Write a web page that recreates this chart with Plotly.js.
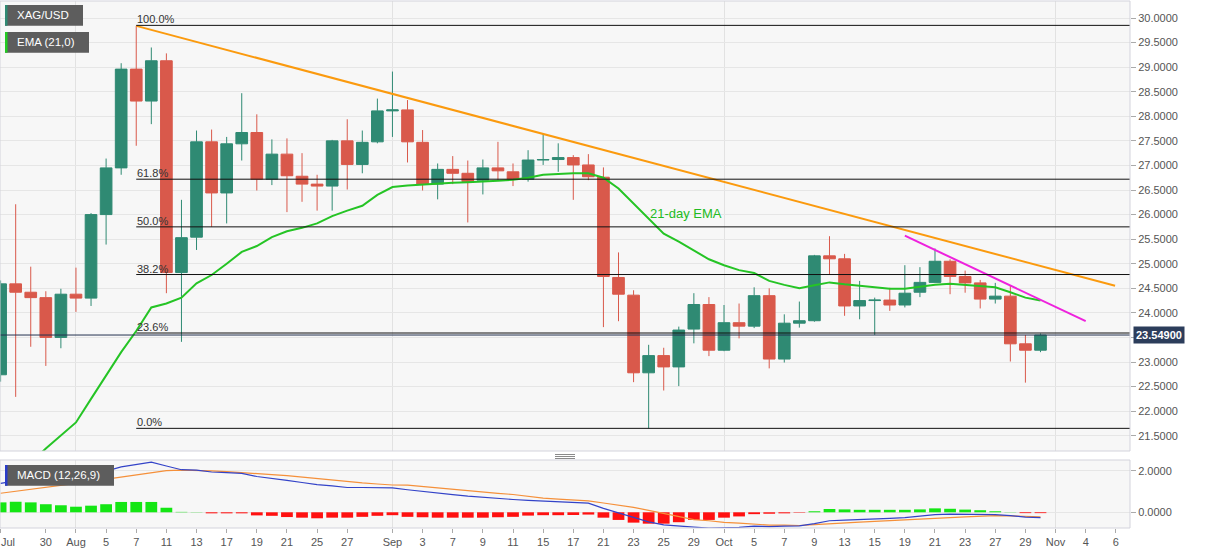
<!DOCTYPE html>
<html><head><meta charset="utf-8">
<script src="https://cdn.plot.ly/plotly-3.0.1.min.js"></script>
<style>html,body{margin:0;padding:0;background:#fff;}#chart{width:1207px;height:555px;}</style>
</head><body><div id="chart"></div>
<script>
// ---------- data ----------
const dates = ['2020-07-27','2020-07-28','2020-07-29','2020-07-30','2020-07-31',
'2020-08-03','2020-08-04','2020-08-05','2020-08-06','2020-08-07','2020-08-10','2020-08-11','2020-08-12','2020-08-13','2020-08-14',
'2020-08-17','2020-08-18','2020-08-19','2020-08-20','2020-08-21','2020-08-24','2020-08-25','2020-08-26','2020-08-27','2020-08-28','2020-08-31',
'2020-09-01','2020-09-02','2020-09-03','2020-09-04','2020-09-07','2020-09-08','2020-09-09','2020-09-10','2020-09-11',
'2020-09-14','2020-09-15','2020-09-16','2020-09-17','2020-09-18','2020-09-21','2020-09-22','2020-09-23','2020-09-24','2020-09-25',
'2020-09-28','2020-09-29','2020-09-30','2020-10-01','2020-10-02','2020-10-05','2020-10-06','2020-10-07','2020-10-08','2020-10-09',
'2020-10-12','2020-10-13','2020-10-14','2020-10-15','2020-10-16','2020-10-19','2020-10-20','2020-10-21','2020-10-22','2020-10-23',
'2020-10-26','2020-10-27','2020-10-28','2020-10-29','2020-10-30'];

const openP = [22.74,24.59,24.42,24.31,23.50,24.38,24.30,26.00,26.95,28.96,
28.31,29.13,24.82,25.54,27.48,26.44,27.44,27.67,26.72,27.23,
26.78,26.62,26.58,27.50,27.02,27.48,28.11,28.13,27.47,26.62,
26.92,26.84,26.70,26.95,26.87,26.72,27.11,27.12,27.16,27.01,
26.76,24.72,24.36,22.78,23.13,22.90,23.67,24.17,23.24,23.80,
23.73,24.35,23.06,23.79,23.84,25.16,25.10,24.14,24.25,24.26,
24.16,24.42,24.62,25.05,24.74,24.61,24.28,24.34,23.37,23.24];
const highP = [24.66,26.21,24.94,24.44,24.49,24.92,26.03,27.14,29.08,29.84,
29.40,29.28,26.30,27.71,27.73,27.58,28.47,28.04,27.53,27.55,
27.25,26.81,27.52,27.94,27.71,28.36,28.91,28.33,27.72,27.04,
27.19,27.10,27.12,27.48,27.04,27.31,27.64,27.45,27.21,27.23,
26.96,25.23,24.46,23.35,23.29,23.72,24.40,24.32,24.16,24.19,
24.52,24.50,23.97,24.23,25.18,25.56,25.20,24.65,24.31,24.51,
24.97,24.93,25.31,25.09,24.86,24.67,24.61,24.55,23.55,23.58];
const lowP = [22.60,22.29,23.31,22.92,23.28,24.02,24.14,25.39,26.81,27.40,
27.84,24.40,23.41,25.28,25.75,25.82,27.10,26.49,26.60,26.05,
26.26,26.08,26.08,26.51,26.84,27.45,27.58,27.06,26.49,26.31,
26.62,25.84,26.41,26.70,26.58,26.67,27.01,26.87,26.30,26.70,
23.71,23.83,22.59,21.65,22.42,22.51,23.38,23.12,23.22,23.48,
23.69,22.87,22.99,23.70,23.82,24.79,23.94,23.87,23.55,24.04,
24.11,24.32,24.62,24.38,24.41,24.09,24.19,23.01,22.58,23.20];
const closeP = [24.59,24.42,24.31,23.50,24.38,24.30,26.00,26.95,28.96,28.31,
29.13,24.82,25.53,27.48,26.44,27.44,27.67,26.72,27.23,26.79,
26.62,26.58,27.50,27.02,27.47,28.11,28.13,27.48,26.62,26.92,
26.84,26.67,26.95,26.89,26.72,27.11,27.12,27.16,27.01,26.77,
24.74,24.38,22.78,23.13,22.90,23.65,24.17,23.24,23.80,23.73,
24.35,23.06,23.79,23.84,25.16,25.10,24.14,24.25,24.26,24.16,
24.40,24.62,25.05,24.74,24.61,24.28,24.34,23.37,23.24,23.549];

const ema21 = [20.50,20.72,20.95,21.24,21.51,21.77,22.25,22.72,23.20,23.63,
24.11,24.19,24.31,24.60,24.77,25.00,25.24,25.36,25.54,25.66,
25.73,25.82,25.97,26.08,26.18,26.40,26.56,26.59,26.61,26.64,
26.65,26.66,26.67,26.69,26.71,26.75,26.81,26.83,26.84,26.84,
26.75,26.53,26.23,25.92,25.61,25.45,25.27,25.09,24.97,24.87,
24.81,24.65,24.57,24.50,24.56,24.62,24.58,24.55,24.52,24.49,
24.49,24.53,24.57,24.59,24.57,24.55,24.52,24.42,24.31,24.25];

const macdLine = [1.40,1.52,1.58,1.59,1.64,1.67,1.82,1.99,2.20,2.32,
2.43,2.24,2.06,2.04,1.95,1.92,1.88,1.73,1.65,1.54,
1.44,1.34,1.28,1.20,1.20,1.20,1.18,1.09,1.00,0.91,
0.85,0.78,0.72,0.68,0.62,0.58,0.55,0.50,0.47,0.44,
0.19,-0.03,-0.26,-0.46,-0.61,-0.68,-0.72,-0.77,-0.75,-0.73,
-0.67,-0.69,-0.67,-0.66,-0.55,-0.41,-0.38,-0.36,-0.32,-0.29,
-0.26,-0.20,-0.11,-0.09,-0.09,-0.09,-0.11,-0.16,-0.23,-0.26];
const signalLine = [0.92,1.01,1.10,1.20,1.30,1.40,1.50,1.60,1.70,1.82,
1.93,2.02,2.04,2.03,2.00,1.97,1.93,1.88,1.82,1.77,
1.70,1.63,1.54,1.46,1.42,1.37,1.32,1.31,1.24,1.17,
1.11,1.04,0.98,0.92,0.86,0.76,0.69,0.64,0.60,0.55,
0.45,0.34,0.24,0.09,-0.05,-0.20,-0.35,-0.41,-0.49,-0.52,
-0.58,-0.62,-0.62,-0.64,-0.60,-0.57,-0.52,-0.48,-0.44,-0.41,
-0.38,-0.34,-0.30,-0.26,-0.22,-0.19,-0.16,-0.17,-0.19,-0.22];
const macdHist = [0.48,0.51,0.48,0.39,0.34,0.27,0.32,0.39,0.50,0.50,
0.50,0.22,0.02,0.01,-0.05,-0.05,-0.05,-0.15,-0.17,-0.23,
-0.26,-0.29,-0.26,-0.26,-0.22,-0.17,-0.14,-0.22,-0.24,-0.26,
-0.26,-0.26,-0.26,-0.24,-0.22,-0.16,-0.14,-0.14,-0.13,-0.11,
-0.26,-0.37,-0.50,-0.55,-0.55,-0.48,-0.37,-0.37,-0.26,-0.20,
-0.09,-0.07,-0.05,-0.02,0.05,0.16,0.14,0.12,0.12,0.12,
0.12,0.14,0.19,0.17,0.13,0.10,0.05,0.01,-0.04,-0.04];

const fibLabels = ['100.0%','61.8%','50.0%','38.2%','23.6%','0.0%'];
const fibLevels = [29.85, 26.72, 25.75, 24.78, 23.59, 21.65];
const fibStart = '2020-08-07';
const lastPrice = 23.549;

const resistX = ['2020-08-07 12:00','2020-11-06 10:48'];
const resistY = [29.84, 24.55];
const shortX = ['2020-10-19 12:00','2020-11-04 12:00'];
const shortY = [25.57, 23.83];

const priceTicks = [21.5,22,22.5,23,23.5,24,24.5,25,25.5,26,26.5,27,27.5,28,28.5,29,29.5,30];

const tickDates = ['2020-07-27','2020-07-30','2020-08-03','2020-08-05','2020-08-07','2020-08-11','2020-08-13','2020-08-17','2020-08-19','2020-08-21','2020-08-25','2020-08-27',
'2020-09-01','2020-09-03','2020-09-07','2020-09-09','2020-09-11','2020-09-15','2020-09-17','2020-09-21','2020-09-23','2020-09-25','2020-09-29',
'2020-10-01','2020-10-05','2020-10-07','2020-10-09','2020-10-13','2020-10-15','2020-10-19','2020-10-21','2020-10-23','2020-10-27','2020-10-29',
'2020-11-02','2020-11-04','2020-11-06'];
const tickLabels = ['Jul','30','Aug','5','7','11','13','17','19','21','25','27',
'Sep','3','7','9','11','15','17','21','23','25','29',
'Oct','5','7','9','13','15','19','21','23','27','29',
'Nov','4','6'];
const monthStarts = ['2020-08-03','2020-09-01','2020-10-01','2020-11-02'];

// ---------- styling / layout ----------
const noon = d => d + ' 12:00';
const X = dates.map(noon);
const UP = '#2f8a73', DOWN = '#d9594b';
const FONT = 'Liberation Sans, Arial, sans-serif';
const W = 1207, H = 555, ML = 0, MR = 77, MT = 1, MB = 27;
const PW = W - ML - MR, PH = H - MT - MB;
const PX = x => (x - ML) / PW;
const PY = y => (H - MB - y) / PH;
const xRange = ['2020-07-27 11:02', '2020-11-09 10:33'];

const traces = [
  {type:'candlestick', x:X, open:openP, high:highP, low:lowP, close:closeP,
   xaxis:'x', yaxis:'y', whiskerwidth:0, hoverinfo:'skip',
   increasing:{line:{color:UP,width:1}, fillcolor:UP},
   decreasing:{line:{color:DOWN,width:1}, fillcolor:DOWN}},
  {type:'scatter', mode:'lines', x:X, y:ema21, xaxis:'x', yaxis:'y',
   line:{color:'#25c425', width:2}, hoverinfo:'skip'},
  {type:'scatter', mode:'lines', x:resistX, y:resistY, xaxis:'x', yaxis:'y',
   line:{color:'#fb9a0e', width:2}, hoverinfo:'skip'},
  {type:'scatter', mode:'lines', x:shortX, y:shortY, xaxis:'x', yaxis:'y',
   line:{color:'#ee22dd', width:2}, hoverinfo:'skip'},
  {type:'bar', x:X, y:macdHist, xaxis:'x', yaxis:'y2',
   marker:{color: macdHist.map(v => v >= 0 ? '#14e614' : '#ff1010'), line:{width:0}}, hoverinfo:'skip'},
  {type:'scatter', mode:'lines', x:X, y:signalLine, xaxis:'x', yaxis:'y2',
   line:{color:'#f5903a', width:1.2}, hoverinfo:'skip'},
  {type:'scatter', mode:'lines', x:X, y:macdLine, xaxis:'x', yaxis:'y2',
   line:{color:'#3343c8', width:1.2}, hoverinfo:'skip'}
];

const shapes = [];
const annotations = [];

// fib retracement lines + labels
fibLevels.forEach((lv, k) => {
  shapes.push({type:'line', xref:'x', yref:'y', x0:noon(fibStart), x1:xRange[1], y0:lv, y1:lv,
    line:{color:'#111', width:1}, layer:'above'});
  annotations.push({xref:'x', yref:'y', x:noon(fibStart), y:lv, xanchor:'left', yanchor:'bottom',
    text:fibLabels[k], showarrow:false, borderpad:0, yshift:-1,
    font:{family:FONT, size:11, color:'#333'}});
});
// last price line
shapes.push({type:'line', xref:'x', yref:'y', x0:xRange[0], x1:xRange[1], y0:lastPrice, y1:lastPrice,
  line:{color:'#24324f', width:1}, layer:'above'});
annotations.push({xref:'paper', yref:'y', x:1, y:lastPrice, xanchor:'left', yanchor:'middle', xshift:3,
  text:'<b>' + lastPrice.toFixed(5) + '</b>', showarrow:false, bgcolor:'#2c3d5b', borderpad:2,
  font:{family:FONT, size:11, color:'#fff'}});

// EMA label
annotations.push({xref:'x', yref:'y', x:'2020-09-24 11:00', y:26.03, xanchor:'left', yanchor:'middle',
  text:'21-day EMA', showarrow:false, font:{family:FONT, size:13, color:'#22bb22'}});

// first x tick label sits at the left edge: drawn inside the page, left-aligned
annotations.push({xref:'paper', yref:'paper', x:0, y:PY(542), xanchor:'left', yanchor:'middle',
  text:tickLabels[0], showarrow:false, borderpad:0, font:{family:FONT, size:11, color:'#555'}});

// panel frames
const mainDom = [PY(451), 1], macdDom = [0, PY(460)];
shapes.push({type:'rect', xref:'paper', yref:'paper', x0:0, x1:1, y0:mainDom[0], y1:mainDom[1],
  line:{color:'#d3d3dc', width:1}, fillcolor:'rgba(0,0,0,0)', layer:'above'});
shapes.push({type:'rect', xref:'paper', yref:'paper', x0:0, x1:1, y0:macdDom[0], y1:macdDom[1],
  line:{color:'#d3d3dc', width:1}, fillcolor:'rgba(0,0,0,0)', layer:'above'});
// splitter handle
[454.5, 456.5, 458.5].forEach(y => shapes.push({type:'line', xref:'paper', yref:'paper',
  x0:PX(555), x1:PX(575), y0:PY(y), y1:PY(y), line:{color:'#8a8a8a', width:1}}));

// legend boxes
function tag(x0, x1, y0, y1, stripColor, text) {
  shapes.push({type:'rect', xref:'paper', yref:'paper', x0:PX(x0), x1:PX(x1), y0:PY(y1), y1:PY(y0),
    fillcolor:'#5d5d5d', line:{width:0}, layer:'above'});
  shapes.push({type:'rect', xref:'paper', yref:'paper', x0:PX(x0), x1:PX(x0+2.5), y0:PY(y1), y1:PY(y0),
    fillcolor:stripColor, line:{width:0}, layer:'above'});
  annotations.push({xref:'paper', yref:'paper', x:PX(x0+11), y:PY((y0+y1)/2), xanchor:'left', yanchor:'middle',
    text:text, showarrow:false, borderpad:0, font:{family:FONT, size:11.5, color:'#fff'}});
}
tag(5, 83, 5, 25.7, '#2f8a73', 'XAG/USD');
tag(5, 89, 32, 52.7, '#22cc22', 'EMA (21,0)');
tag(5, 114, 465, 485.7, '#2a3cc8', 'MACD (12,26,9)');

// the tick label sitting under the last-price box is not shown
const priceTickText = priceTicks.map(v => Math.abs(v - lastPrice) < 0.15 ? '' : v.toFixed(4));

const layout = {
  width:W, height:H, margin:{l:ML, r:MR, t:MT, b:MB, pad:0},
  paper_bgcolor:'#ffffff', plot_bgcolor:'#f7f7f7',
  showlegend:false, hovermode:false, dragmode:false,
  boxgap:0.12, boxgroupgap:0.12, bargap:0.22,
  font:{family:FONT, size:11, color:'#555'},
  xaxis:{type:'date', anchor:'y2', range:xRange, rangebreaks:[{bounds:['sat','mon']}],
    rangeslider:{visible:false}, tickmode:'array', tickvals:tickDates.map(noon),
    ticktext:tickLabels.map((t, k) => k === 0 ? '' : t),
    ticks:'outside', ticklen:4, tickcolor:'#aaa', showgrid:false, zeroline:false, showline:false,
    tickfont:{family:FONT, size:11, color:'#555'},
    minor:{tickmode:'array', tickvals:monthStarts.map(noon), showgrid:true, gridcolor:'#e2e2e2', gridwidth:1, ticks:''}},
  yaxis:{domain:mainDom, range:[21.189, 30.346], side:'right', anchor:'x', tickmode:'array',
    tickvals:priceTicks, ticktext:priceTickText,
    ticks:'outside', ticklen:5, tickcolor:'#aaa', showgrid:true, gridcolor:'#e6e6e6', zeroline:false,
    tickfont:{family:FONT, size:11, color:'#555'}},
  yaxis2:{domain:macdDom, range:[-0.76, 2.53], side:'right', anchor:'x', tickvals:[0,2], tickformat:'.4f',
    ticks:'outside', ticklen:5, tickcolor:'#aaa', showgrid:true, gridcolor:'#e6e6e6', zeroline:false,
    tickfont:{family:FONT, size:11, color:'#555'}},
  shapes:shapes, annotations:annotations
};

Plotly.newPlot('chart', traces, layout, {staticPlot:true, displayModeBar:false});
</script>
</body></html>
